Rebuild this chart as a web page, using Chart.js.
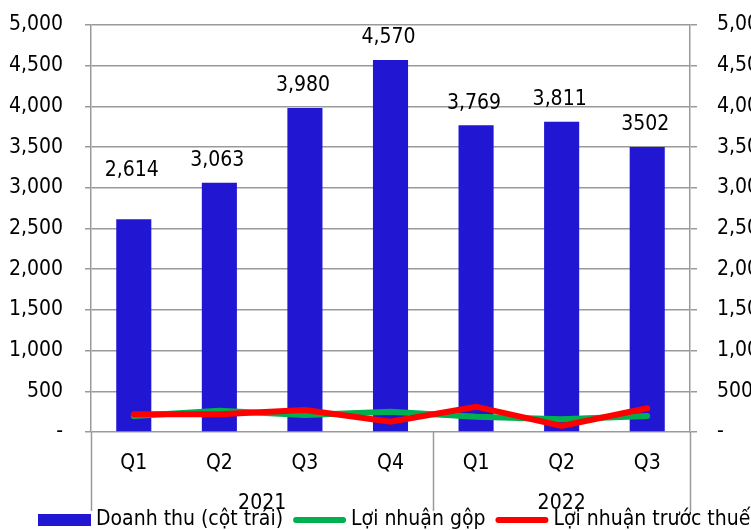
<!DOCTYPE html>
<html>
<head>
<meta charset="utf-8">
<script src="https://cdn.jsdelivr.net/npm/chart.js@4.4.1/dist/chart.umd.min.js"></script>
<style>
  html, body { margin: 0; padding: 0; background: #fff; }
  #wrap { width: 751px; height: 530px; position: relative; }
</style>
</head>
<body>
<div id="wrap"><canvas id="c" width="751" height="530"></canvas></div>
<script>
const categories = ['Q1', 'Q2', 'Q3', 'Q4', 'Q1', 'Q2', 'Q3'];
const yearGroups = ['2021', '2022'];
const yearGroupSizes = [4, 3];
const revenue = [2614, 3063, 3980, 4570, 3769, 3811, 3502];
const revenueLabels = ['2,614', '3,063', '3,980', '4,570', '3,769', '3,811', '3502'];
const grossProfit = [197, 262, 209, 250, 188, 156, 197];
const preTaxProfit = [217, 217, 270, 127, 311, 74, 291];
const seriesNames = ['Doanh thu (cột trái)', 'Lợi nhuận gộp', 'Lợi nhuận trước thuế'];

const FONT = "'DejaVu Sans Condensed', 'DejaVu Sans', sans-serif";
const FS = 21;
const GRID = '#9a9a9a';
const BLUE = '#2116D1';
const GREEN = '#00B050';
const RED = '#FF0000';

function fmtTick(v) {
  if (v === 0) return '-';
  return v.toLocaleString('en-US');
}

const overlay = {
  id: 'overlay',
  afterDraw(chart) {
    const ctx = chart.ctx;
    const xs = chart.scales.x;
    const ca = chart.chartArea;
    ctx.save();
    // bar value labels
    const meta = chart.getDatasetMeta(0);
    ctx.font = FS + 'px ' + FONT;
    ctx.fillStyle = '#000';
    ctx.textAlign = 'center';
    ctx.textBaseline = 'middle';
    meta.data.forEach((bar, i) => {
      const extra = i === 0 ? 27 : 0;
      ctx.fillText(revenueLabels[i], bar.x - 2, bar.y - 22 - extra);
    });
    // group separators and year labels
    ctx.strokeStyle = GRID;
    ctx.lineWidth = 1.5;
    let start = 0;
    const edges = [ca.left];
    yearGroupSizes.forEach((n, g) => {
      const end = start + n - 1;
      const right = end === categories.length - 1 ? ca.right
        : (xs.getPixelForValue(end) + xs.getPixelForValue(end + 1)) / 2;
      edges.push(right);
      const left = edges[g];
      ctx.fillText(yearGroups[g], (left + right) / 2, 504);
      start += n;
    });
    edges.forEach(x => {
      ctx.beginPath();
      ctx.moveTo(Math.round(x) + 0.5, ca.bottom);
      ctx.lineTo(Math.round(x) + 0.5, 511);
      ctx.stroke();
    });
    // legend
    const colors = [BLUE, GREEN, RED];
    let lx = 38;
    const ly = 520;
    ctx.textAlign = 'left';
    chart.data.datasets.forEach((ds, i) => {
      if (i === 0) {
        ctx.fillStyle = colors[i];
        ctx.fillRect(lx, ly - 6, 53, 12);
      } else {
        ctx.strokeStyle = colors[i];
        ctx.lineWidth = 6;
        ctx.lineCap = 'round';
        ctx.beginPath();
        ctx.moveTo(lx + 3, ly);
        ctx.lineTo(lx + 50, ly);
        ctx.stroke();
      }
      lx += 58;
      ctx.fillStyle = '#000';
      ctx.fillText(ds.label, lx, ly);
      lx += ctx.measureText(ds.label).width + 10;
    });
    ctx.restore();
  }
};

function fitY(width) {
  return function (s) {
    s.width = width;
    s.paddingTop = 0;
    s.paddingBottom = 0;
  };
}

new Chart(document.getElementById('c'), {
  data: {
    labels: categories,
    datasets: [
      {
        type: 'bar', label: seriesNames[0], data: revenue,
        backgroundColor: BLUE, borderWidth: 0,
        categoryPercentage: 1, barPercentage: 0.41, order: 2, yAxisID: 'y'
      },
      {
        type: 'line', label: seriesNames[1], data: grossProfit,
        borderColor: GREEN, borderWidth: 6, pointRadius: 0, tension: 0,
        borderCapStyle: 'round', order: 1, yAxisID: 'y'
      },
      {
        type: 'line', label: seriesNames[2], data: preTaxProfit,
        borderColor: RED, borderWidth: 6, pointRadius: 0, tension: 0,
        borderCapStyle: 'round', order: 0, yAxisID: 'y'
      }
    ]
  },
  options: {
    responsive: false,
    animation: false,
    layout: { padding: { top: 25, left: 0, right: 0, bottom: 0 } },
    plugins: { legend: { display: false }, tooltip: { enabled: false } },
    scales: {
      x: {
        grid: { display: false, drawTicks: false },
        border: { display: false },
        ticks: { color: '#000', font: { family: FONT, size: FS }, padding: 19, maxRotation: 0 },
        afterFit(s) { s.height = 98; s.paddingLeft = 0; s.paddingRight = 0; }
      },
      y: {
        position: 'left', min: 0, max: 5000,
        ticks: { stepSize: 500, color: '#000', font: { family: FONT, size: FS }, padding: 22, callback: fmtTick },
        grid: { color: GRID, lineWidth: 1.5, tickLength: 6 },
        border: { color: GRID, width: 1.5 },
        afterFit: fitY(91)
      },
      y1: {
        position: 'right', min: 0, max: 5000,
        ticks: { stepSize: 500, color: '#000', font: { family: FONT, size: FS }, padding: 20, callback: fmtTick },
        grid: { color: GRID, lineWidth: 1.5, tickLength: 7, drawOnChartArea: false },
        border: { color: GRID, width: 1.5 },
        afterFit: fitY(61)
      }
    }
  },
  plugins: [overlay]
});
</script>
</body>
</html>
